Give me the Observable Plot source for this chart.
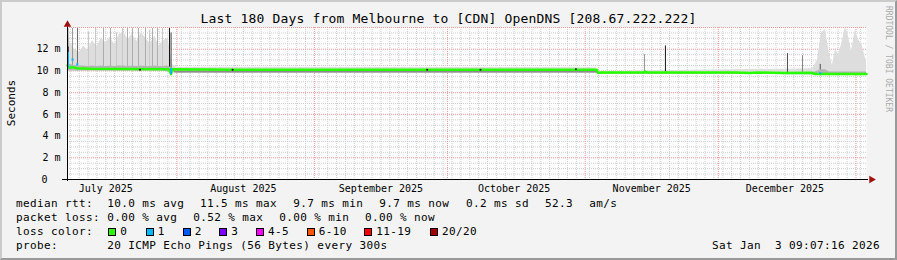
<!DOCTYPE html>
<html><head><meta charset="utf-8">
<script src="https://cdn.jsdelivr.net/npm/d3@7"></script>
<script src="https://cdn.jsdelivr.net/npm/@observablehq/plot@0.6"></script>
<style>
html,body{margin:0;padding:0;}
body{width:897px;height:260px;background:#f3f3f3;position:relative;overflow:hidden;font-family:"DejaVu Sans Mono",monospace;color:#000;}
#frame{position:absolute;left:0;top:0;width:897px;height:260px;box-sizing:border-box;border-top:2px solid #cbcbcb;border-left:2px solid #cbcbcb;border-right:2px solid #999;border-bottom:2px solid #999;pointer-events:none;}
#title{position:absolute;left:0;top:10px;width:897px;text-align:center;font-size:13px;letter-spacing:0.17px;line-height:18px;white-space:pre;}
#ylab{position:absolute;left:11px;top:103px;transform:translate(-50%,-50%) rotate(-90deg);font-size:11px;white-space:pre;}
#brand{position:absolute;left:888px;top:59px;transform:translate(-50%,-50%) rotate(90deg);font-size:8px;color:#aaa;white-space:pre;}
#chart{position:absolute;left:0;top:0;}
.lg{position:absolute;font-size:11px;letter-spacing:0.38px;white-space:pre;line-height:14px;}
.box{position:absolute;width:6px;height:6px;border:1px solid #000;}
</style>
</head><body>
<div id="chart"></div>
<div id="title"></div>
<div id="ylab"></div>
<div id="brand"></div>
<div id="legend"></div>
<div id="frame"></div>
<script>
// ---------- DATA ----------
const titleText = "Last 180 Days from Melbourne to [CDN] OpenDNS [208.67.222.222]";
const yLabel = "Seconds";
const brandText = "RRDTOOL / TOBI OETIKER";
const timeStart = "2025-07-07T09:07:16";
const timeEnd = "2026-01-03T09:07:16";
const monthLabels = ["July 2025","August 2025","September 2025","October 2025","November 2025","December 2025"];
const monthLabelDates = ["2025-07-16T00:00","2025-08-16T00:00","2025-09-16T00:00","2025-10-16T00:00","2025-11-16T00:00","2025-12-16T00:00"];
const monthStarts = ["2025-08-01T00:00","2025-09-01T00:00","2025-10-01T00:00","2025-11-01T00:00","2025-12-01T00:00","2026-01-01T00:00"];
const yTicks = [0,2,4,6,8,10,12];

// smoke envelope (ms)
const smokeTime = ["2025-07-07T09:07","2025-07-08T00:00","2025-07-09T00:00","2025-07-10T00:00","2025-07-11T00:00","2025-07-12T00:00","2025-07-13T00:00","2025-07-14T00:00","2025-07-15T00:00","2025-07-16T00:00","2025-07-17T00:00","2025-07-18T00:00","2025-07-19T00:00","2025-07-20T00:00","2025-07-21T00:00","2025-07-22T00:00","2025-07-23T00:00","2025-07-24T00:00","2025-07-25T00:00","2025-07-26T00:00","2025-07-27T00:00","2025-07-28T00:00","2025-07-29T00:00","2025-07-30T00:00","2025-07-31T00:00","2025-08-01T00:00","2025-11-03T12:00","2025-11-04T00:00","2025-12-22T06:00","2025-12-23T08:00","2025-12-24T06:00","2025-12-25T03:00","2025-12-26T01:00","2025-12-26T17:00","2025-12-27T09:00","2025-12-28T02:00","2025-12-28T18:00","2025-12-29T15:00","2025-12-30T08:00","2025-12-31T00:00","2025-12-31T21:00","2026-01-01T14:00","2026-01-02T11:00","2026-01-03T03:00","2026-01-03T09:07"];
const smokeLo  = [10.0,10.0,10.0,10.0,10.0,10.0,10.0,10.0,10.0,10.0,10.0,10.0,10.0,10.0,10.0,10.0,10.0,10.0,10.0,10.0,10.0,10.0,10.0,9.9,9.85,9.8,9.8,9.7,9.65,9.6,9.6,9.6,9.6,9.6,9.6,9.6,9.6,9.6,9.6,9.6,9.6,9.6,9.6,9.6,9.6];
const smokeMid = [10.7,10.6,10.5,10.45,10.45,10.4,10.45,10.4,10.45,10.4,10.45,10.4,10.45,10.45,10.4,10.45,10.4,10.45,10.4,10.4,10.45,10.4,10.4,10.45,10.25,10.1,10.1,9.8,9.8,10.0,10.1,10.1,9.9,9.9,9.9,9.9,9.9,9.9,9.9,9.9,9.9,9.9,9.9,9.9,9.9];
const smokeHi  = [13.9,12.6,12.0,11.7,12.3,11.9,12.8,12.2,13.0,12.6,13.1,12.4,13.3,13.6,12.9,13.4,12.7,13.5,13.0,12.5,13.2,12.3,12.8,13.0,10.6,10.35,10.3,9.95,10.2,11.0,13.5,13.8,11.5,10.5,12.0,11.5,12.4,14.0,13.2,11.8,13.8,12.9,12.3,11.2,11.0];

// darker smoke just under the median (ms)
const shadowTime = ["2025-07-31T12:00","2025-09-15T00:00","2025-11-03T14:00"];
const shadowVal  = [9.93,9.93,9.93];

// individual smoke streaks (ms) and their darkness 0..1
const spikeTime = ["2025-07-07T12:00","2025-07-07T13:00","2025-07-08T12:20","2025-07-09T15:07","2025-07-12T02:40","2025-07-13T16:30","2025-07-15T11:45","2025-07-17T01:40","2025-07-18T10:00","2025-07-19T18:30","2025-07-20T21:35","2025-07-22T00:30","2025-07-23T09:00","2025-07-24T22:50","2025-07-25T20:30","2025-07-26T12:40","2025-07-27T15:35","2025-07-28T18:45","2025-07-30T08:40","2025-07-30T17:00","2025-11-14T09:00","2025-11-19T02:00","2025-12-16T13:50","2025-12-19T23:00","2025-12-23T23:00"];
const spikeLo  = [12.2,10.2,10.2,10.0,10.1,10.1,10.1,10.1,10.1,10.1,10.1,10.1,10.1,10.1,10.1,10.1,10.1,10.1,10.0,9.6,9.9,9.9,9.8,9.8,9.7];
const spikeHi  = [13.9,12.2,13.9,13.9,13.6,13.9,13.9,13.9,13.5,13.9,13.9,13.9,13.9,13.9,13.7,13.9,13.9,13.9,13.9,13.5,11.5,12.3,11.6,11.4,10.6];
const spikeDark= [0.3,0.95,0.3,0.5,0.08,0.08,0.2,0.2,0.08,0.08,0.2,0.2,0.2,0.2,0.08,0.2,0.2,0.08,0.9,0.7,0.3,0.9,0.65,0.4,0.65];

// median rtt (ms)
const medianTime = ["2025-07-07T09:07","2025-07-07T20:00","2025-07-08T12:00","2025-07-09T12:00","2025-07-12T00:00","2025-07-20T00:00","2025-07-30T06:00","2025-07-30T17:00","2025-07-31T00:00","2025-08-15T00:00","2025-09-15T00:00","2025-10-15T00:00","2025-11-03T14:00","2025-11-04T00:00","2025-11-04T12:00","2025-11-14T06:00","2025-11-14T12:00","2025-11-14T20:00","2025-12-05T00:00","2025-12-08T00:00","2025-12-10T00:00","2025-12-16T00:00","2025-12-22T06:00","2025-12-22T14:00","2026-01-03T09:07"];
const medianVal  = [10.5,10.3,10.35,10.25,10.2,10.18,10.15,9.7,10.15,10.12,10.12,10.12,10.12,9.8,9.85,9.85,9.95,9.85,9.85,9.8,9.85,9.82,9.83,9.72,9.72];

// loss-coloured median samples: time, low/high ms, loss bucket index
const lossTime = ["2025-07-07T11:45","2025-07-08T12:20","2025-07-09T14:00","2025-07-30T17:00","2025-12-23T23:00"];
const lossLo   = [10.2,10.9,10.45,9.65,9.65];
const lossHi   = [11.7,11.1,10.65,10.2,9.85];
const lossIdx  = [1,1,1,1,1];

// dark specks on the median
const speckTime = ["2025-07-23T17:00","2025-08-13T14:00","2025-09-26T10:00","2025-10-08T10:00","2025-10-29T22:00"];
const speckVal  = [10.1,10.1,10.1,10.1,10.15];

// legend
const lossLabels = ["0","1","2","3","4-5","6-10","11-19","20/20"];
const lossColors = ["#26ff00","#00b8ff","#0059ff","#7e00ff","#ff00ff","#ff5500","#ff0000","#a10000"];
const rttStats  = ["median rtt:","10.0 ms avg","11.5 ms max","9.7 ms min","9.7 ms now","0.2 ms sd","52.3","am/s"];
const lossStats = ["packet loss:","0.00 % avg","0.52 % max","0.00 % min","0.00 % now"];
const probeText = ["probe:","20 ICMP Echo Pings (56 Bytes) every 300s"];
const dateText = "Sat Jan  3 09:07:16 2026";

// ---------- BUILD ----------
const D = s => new Date(s + "Z");
const x0 = D(timeStart), x1 = D(timeEnd);
const smoke = smokeTime.map((t,i)=>({t:D(t), lo:smokeLo[i], mid:smokeMid[i], hi:smokeHi[i]}));
const shadow = shadowTime.map((t,i)=>({t:D(t), v:shadowVal[i]}));
const spikes = spikeTime.map((t,i)=>({t:D(t), lo:spikeLo[i], hi:spikeHi[i], k:spikeDark[i]}));
const median = medianTime.map((t,i)=>({t:D(t), v:medianVal[i]}));
const loss = lossTime.map((t,i)=>({t:D(t), lo:lossLo[i], hi:lossHi[i], c:lossColors[lossIdx[i]]}));
const specks = speckTime.map((t,i)=>({t:D(t), v:speckVal[i]}));
const shade = d3.interpolateRgb("#d8d8d8", "#000000");

const minorY = d3.range(0, 14.001, 0.5).filter(v => v % 2 !== 0);
const majorY = d3.range(2, 14.001, 2);
const minorX = d3.utcHour.every(12).range(x0, x1).filter((d,i)=> d.getUTCHours()===0 && d.getUTCDate()%2===0);
const mStarts = monthStarts.map(D);

const chart = Plot.plot({
  width: 897, height: 197,
  marginTop: 27, marginBottom: 18, marginLeft: 67, marginRight: 31,
  style: {background: "transparent", fontFamily: "DejaVu Sans Mono", fontSize: "10px", color: "#000", overflow: "visible"},
  x: {type: "utc", domain: [x0, x1], axis: null},
  y: {domain: [0, 14], axis: null},
  marks: [
    Plot.frame({fill: "white", stroke: null}),
    Plot.ruleY(minorY, {stroke: "#cfcfcf", strokeDasharray: "1,1"}),
    Plot.ruleX(minorX, {stroke: "#cfcfcf", strokeDasharray: "1,1"}),
    Plot.ruleY(majorY, {stroke: "#f09a9a", strokeDasharray: "1,1"}),
    Plot.ruleX(mStarts, {stroke: "#f09a9a", strokeDasharray: "1,1", insetBottom: -2}),
    Plot.areaY(smoke, {x: "t", y1: "lo", y2: "hi", fill: "#dddddd"}),
    Plot.ruleX(spikes, {x: "t", y1: "lo", y2: "hi", stroke: d => shade(d.k), strokeWidth: 1}),
    Plot.areaY(smoke, {x: "t", y1: "lo", y2: "mid", fill: "#b4b4b4"}),
    Plot.line(shadow, {x: "t", y: "v", stroke: "#8c8c8c", strokeWidth: 1.5}),
    Plot.line(median, {x: "t", y: "v", stroke: lossColors[0], strokeWidth: 2.5}),
    Plot.dot(specks, {x: "t", y: "v", r: 1, fill: "#000", stroke: null}),
    Plot.ruleX(loss, {x: "t", y1: "lo", y2: "hi", stroke: "c", strokeWidth: 2}),
    // axes
    Plot.ruleY([0], {stroke: "#000", insetLeft: -5, insetRight: -2}),
    Plot.ruleX([x0], {stroke: "#000", insetTop: -2, insetBottom: -2}),
    Plot.dot([{t: x1, v: 0}], {x: "t", y: "v", symbol: "triangle2", r: 3.6, rotate: 90, dx: 5, fill: "#a01010", stroke: null}),
    Plot.dot([{t: x0, v: 14}], {x: "t", y: "v", symbol: "triangle2", r: 3.6, dy: -3, fill: "#a01010", stroke: null}),
    Plot.text(yTicks.filter(d => d !== 0), {x: x0, y: d => d, text: d => `${d} m`, textAnchor: "end", dx: -7, fontSize: 10}),
    Plot.text(yTicks.filter(d => d === 0), {x: x0, y: d => d, text: d => `${d}`, textAnchor: "end", dx: -20, fontSize: 10}),
    Plot.text(monthLabels, {x: (d,i) => D(monthLabelDates[i]), y: 0, text: d => d, dy: 9, fontSize: 10})
  ]
});
document.getElementById("chart").appendChild(chart);

document.getElementById("title").textContent = titleText;
document.getElementById("ylab").textContent = yLabel;
document.getElementById("brand").textContent = brandText;

// legend layout
const lg = document.getElementById("legend");
function put(text, left, cy){ const s=document.createElement("div"); s.className="lg"; s.textContent=text; s.style.left=left+"px"; s.style.top=(cy-7)+"px"; lg.appendChild(s); return s; }
const rttX = [16,107.3,200,293.3,379.3,466,545,589.3];
rttStats.forEach((t,i)=>put(t, rttX[i], 204));
const lossX = [16,107.3,193.3,279.3,365];
lossStats.forEach((t,i)=>put(t, lossX[i], 218));
put("loss color:", 16, 232);
const boxX = [108.3,145.7,182.7,219.3,256,306.7,364.3,430];
lossLabels.forEach((t,i)=>{
  const b=document.createElement("div"); b.className="box"; b.style.left=boxX[i]+"px"; b.style.top="228px"; b.style.background=lossColors[i]; lg.appendChild(b);
  put(t, boxX[i]+12, 232);
});
put(probeText[0], 16, 246);
put(probeText[1], 107.3, 246);
const dt = put(dateText, 0, 246); dt.style.left="auto"; dt.style.right=(897-880)+"px";
</script>
</body></html>
